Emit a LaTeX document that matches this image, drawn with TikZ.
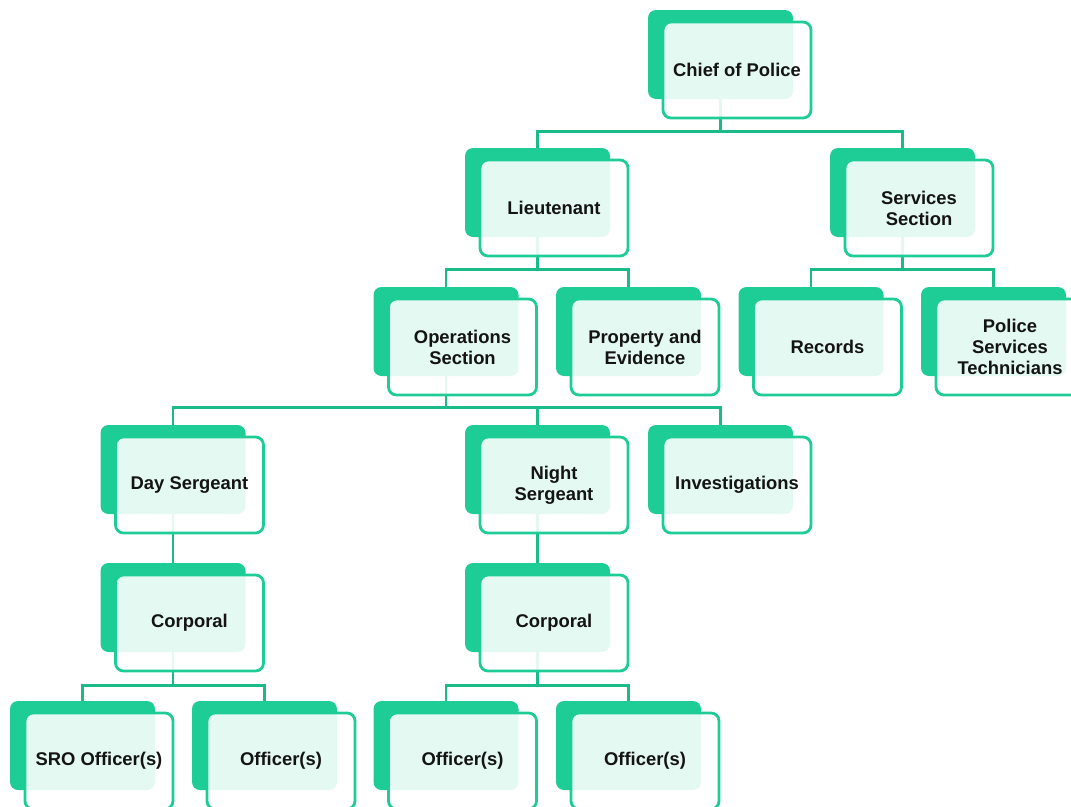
\documentclass[tikz,border=0pt]{standalone}
\usepackage{fontspec}
\setmainfont{Liberation Sans}
\begin{document}
\begin{tikzpicture}[x=1pt,y=-1pt,
  back/.style={draw=none,fill=grn,rounded corners=8pt,minimum width=145pt,minimum height=89pt,inner sep=0pt},
  front/.style={draw=grn,line width=2.8pt,fill=white,fill opacity=0.885,text opacity=1,rounded corners=8pt,
    minimum width=148pt,minimum height=96pt,inner sep=0pt,align=center,
    font=\fontsize{18.4}{21}\selectfont\bfseries,text=txt},
  conn/.style={draw=lgrn,line width=2.8pt}]
\definecolor{grn}{HTML}{1ECC96}
\definecolor{lgrn}{HTML}{1BBA89}
\definecolor{txt}{HTML}{141414}
\useasboundingbox (0,0) rectangle (1071,806);
\clip (0,0) rectangle (1071,806);
% back rectangles
\foreach \n/\x/\y in {chief/720.5/54.5, lt/537.5/192.5, svc/902.5/192.5,
  ops/446/331.5, prop/628.5/331.5, rec/811/331.5, pst/993.5/331.5,
  day/173/469.5, night/537.5/469.5, inv/720.5/469.5,
  corpl/173/607.5, corpr/537.5/607.5,
  sro/82.5/745.5, offa/264.5/745.5, offb/446/745.5, offc/628.5/745.5}
  {\node[back] (\n b) at (\x,\y) {};}
% connectors
\draw[conn] (chiefb.south) -- ++(0,32) -| (ltb.north);
\draw[conn] (chiefb.south) -- ++(0,32) -| (svcb.north);
\draw[conn] (ltb.south) -- ++(0,32) -| (opsb.north);
\draw[conn] (ltb.south) -- ++(0,32) -| (propb.north);
\draw[conn] (svcb.south) -- ++(0,32) -| (recb.north);
\draw[conn] (svcb.south) -- ++(0,32) -| (pstb.north);
\draw[conn] (opsb.south) -- ++(0,31) -| (dayb.north);
\draw[conn] (opsb.south) -- ++(0,31) -| (nightb.north);
\draw[conn] (opsb.south) -- ++(0,31) -| (invb.north);
\draw[conn] (dayb.south) -- (corplb.north);
\draw[conn] (nightb.south) -- (corprb.north);
\draw[conn] (corplb.south) -- ++(0,33) -| (srob.north);
\draw[conn] (corplb.south) -- ++(0,33) -| (offab.north);
\draw[conn] (corprb.south) -- ++(0,33) -| (offbb.north);
\draw[conn] (corprb.south) -- ++(0,33) -| (offcb.north);
% front rectangles
\foreach \n/\t in {chief/Chief of Police, lt/Lieutenant, svc/{Services\\Section},
  ops/{Operations\\Section}, prop/{Property and\\Evidence}, rec/Records,
  pst/{Police\\Services\\Technicians},
  day/Day Sergeant, night/{Night\\Sergeant}, inv/Investigations,
  corpl/Corporal, corpr/Corporal,
  sro/SRO Officer(s), offa/Officer(s), offb/Officer(s), offc/Officer(s)}
  {\node[front] (\n) at ([shift={(16.5,15.5)}]\n b.center) {\t};}
\end{tikzpicture}
\end{document}
